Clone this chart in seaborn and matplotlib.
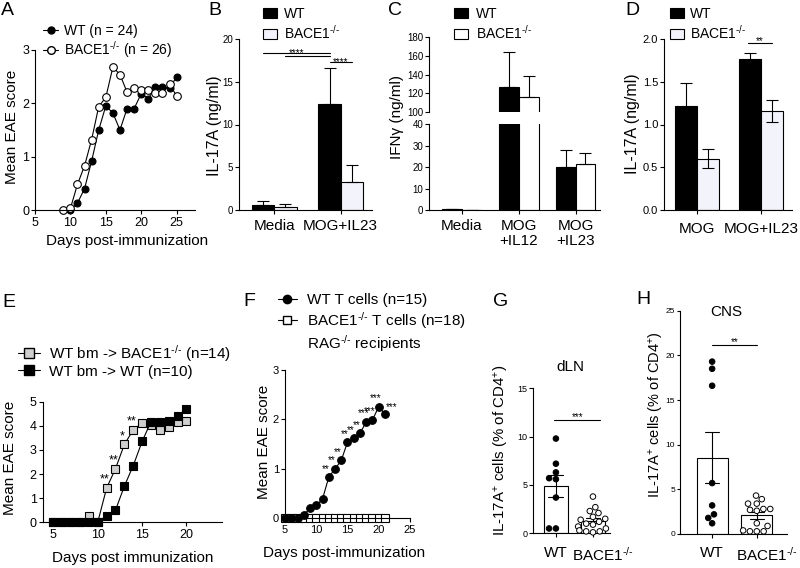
import numpy as np
import pandas as pd
import matplotlib
matplotlib.use("Agg")
import matplotlib.pyplot as plt
import seaborn as sns
from matplotlib.lines import Line2D
from matplotlib.patches import Patch
from matplotlib.transforms import ScaledTranslation

# ---------------- data ----------------
# Panel A
a_days_wt = [10, 11, 12, 13, 14, 15, 16, 17, 18, 19, 20, 21, 22, 23, 24, 25]
a_score_wt = [0.00, 0.13, 0.40, 0.92, 1.50, 1.95, 1.82, 1.50, 1.90, 1.90, 2.18, 2.09, 2.30, 2.30, 2.28, 2.50]
a_days_ko = [9, 10, 11, 12, 13, 14, 15, 16, 17, 18, 19, 20, 21, 22, 23, 24, 25]
a_score_ko = [0.00, 0.03, 0.48, 0.83, 1.32, 1.94, 2.11, 2.68, 2.54, 2.21, 2.28, 2.25, 2.25, 2.20, 2.20, 2.36, 2.14]

# Panel B
b_conditions = ["Media", "MOG+IL23"]
b_wt = [0.60, 12.4]
b_wt_sem = [0.45, 4.2]
b_ko = [0.35, 3.3]
b_ko_sem = [0.30, 2.0]

# Panel C
c_conditions = ["Media", "MOG\n+IL12", "MOG\n+IL23"]
c_wt = [0.3, 127.0, 20.0]
c_wt_sem = [0.0, 37.0, 8.0]
c_ko = [0.2, 116.0, 21.5]
c_ko_sem = [0.0, 23.0, 5.2]

# Panel D
d_conditions = ["MOG", "MOG+IL23"]
d_wt = [1.22, 1.77]
d_wt_sem = [0.26, 0.07]
d_ko = [0.60, 1.16]
d_ko_sem = [0.11, 0.13]

# Panel E
e_days = [5, 6, 7, 8, 9, 10, 11, 12, 13, 14, 15, 16, 17, 18, 19, 20]
e_ko_recip = [0, 0, 0, 0, 0.25, 0, 1.42, 2.22, 3.23, 3.83, 4.12, 4.02, 3.83, 3.95, 4.15, 4.22]
e_wt_recip = [0, 0, 0, 0, 0, 0, 0.28, 0.50, 1.50, 2.35, 3.35, 4.17, 4.17, 4.20, 4.42, 4.70]
e_sig_days = [11, 12, 13, 14]
e_sig_labels = ["**", "**", "*", "**"]

# Panel F
f_days = [5, 6, 7, 8, 9, 10, 11, 12, 13, 14, 15, 16, 17, 18, 19, 20, 21]
f_wt = [0, 0, 0, 0.07, 0.20, 0.26, 0.39, 0.83, 1.00, 1.17, 1.54, 1.62, 1.72, 1.95, 1.99, 2.26, 2.10]
f_ko = [0, 0, 0, 0, 0, 0, 0, 0, 0, 0, 0, 0, 0, 0, 0, 0, 0]
f_sig_days = [12, 13, 14, 15, 16, 17, 18, 19, 20]
f_sig_labels = ["**", "**", "**", "**", "**", "**", "***", "***", "***"]

# Panel G (dLN)
g_wt = [9.8, 7.2, 6.3, 5.7, 5.6, 3.7, 0.5, 0.5]
g_ko = [3.8, 2.7, 2.3, 2.1, 1.7, 1.5, 1.4, 1.2, 1.0, 0.9, 0.7, 0.5, 0.3, 0.2, 0.2, 0.1]

# Panel H (CNS)
h_wt = [19.3, 18.5, 16.6, 5.7, 3.2, 2.2, 1.8, 1.2]
h_ko = [4.3, 3.9, 3.4, 3.4, 2.8, 2.8, 2.7, 2.6, 1.2, 0.9, 0.4, 0.3, 0.3, 0.3]

KO = r"BACE1$^{\text{-/-}}$"
RAG = r"RAG$^{\text{-/-}}$"
KO_FILL = "#f3f3fc"

# ---------------- style ----------------
sns.set_style("ticks")
plt.rcParams.update({
    "font.family": ["Liberation Sans", "DejaVu Sans"],
    "mathtext.fontset": "custom",
    "mathtext.rm": "Liberation Sans",
    "mathtext.it": "Liberation Sans:italic",
    "mathtext.bf": "Liberation Sans:bold",
    "axes.edgecolor": "black",
    "axes.linewidth": 0.8,
    "xtick.color": "black",
    "ytick.color": "black",
    "text.color": "black",
    "axes.labelcolor": "black",
    "xtick.major.width": 0.8,
    "ytick.major.width": 0.8,
    "xtick.major.size": 2.8,
    "ytick.major.size": 2.8,
})

W, H = 800, 568
fig = plt.figure(figsize=(8, 5.68), dpi=100)


def add_ax(l, t, r, b):
    ax = fig.add_axes([l / W, 1 - b / H, (r - l) / W, (b - t) / H])
    ax.set_facecolor("none")
    return ax


def ftext(x, y, s, **kw):
    return fig.text(x / W, 1 - y / H, s, **kw)


def style(ax, yfs, xfs=None):
    sns.despine(ax=ax)
    ax.set_xlabel("")
    ax.set_ylabel("")
    ax.tick_params(axis="y", labelsize=yfs, pad=1.5)
    ax.tick_params(axis="x", labelsize=xfs if xfs else yfs, pad=2)


def legend(ax, handles, labels, x, y, fs, **kw):
    ax.legend(handles, labels, loc="upper left", bbox_to_anchor=(x / W, 1 - y / H),
              bbox_transform=fig.transFigure, frameon=False, fontsize=fs,
              borderpad=0, borderaxespad=0, **kw)


def sig(ax, x0, x1, y, s, off=0.0, fs=7):
    ax.plot([x0, x1], [y, y], color="black", lw=0.8, clip_on=False)
    ax.annotate(s, xy=((x0 + x1) / 2, y), xytext=(0, off), textcoords="offset points",
                ha="center", va="baseline", fontsize=fs, annotation_clip=False)


def bar_panel(ax, conds, wt, wt_sem, ko, ko_sem, ko_fill, width, both=False):
    df = pd.DataFrame({"condition": conds * 2,
                       "genotype": ["WT"] * len(conds) + ["KO"] * len(conds),
                       "value": wt + ko})
    sns.barplot(data=df, x="condition", y="value", hue="genotype", hue_order=["WT", "KO"],
                palette={"WT": "black", "KO": ko_fill}, saturation=1, width=width,
                edgecolor="black", linewidth=0.8, errorbar=None, legend=False, ax=ax)
    xpos = np.arange(len(conds))
    off = width / 4
    for xs, m, e in [(xpos - off, wt, wt_sem), (xpos + off, ko, ko_sem)]:
        e = np.asarray(e)
        lower = e if both else np.zeros_like(e)
        ax.errorbar(xs, m, yerr=[lower, e], fmt="none", ecolor="black",
                    elinewidth=0.8, capsize=4, capthick=0.8, zorder=3)


def bar_handles(fill):
    return [Patch(facecolor="black", edgecolor="black", lw=0.8),
            Patch(facecolor=fill, edgecolor="black", lw=0.8)]


# ---------------- Panel A ----------------
axA = add_ax(35, 50, 195, 210)
sns.lineplot(x=a_days_wt, y=a_score_wt, ax=axA, color="black", lw=0.8, marker="o",
             markersize=5, markerfacecolor="black", markeredgecolor="black",
             markeredgewidth=0.8, clip_on=False, errorbar=None)
sns.lineplot(x=a_days_ko, y=a_score_ko, ax=axA, color="black", lw=0.8, marker="o",
             markersize=5.5, markerfacecolor="white", markeredgecolor="black",
             markeredgewidth=0.8, clip_on=False, errorbar=None)
axA.set(xlim=(5, 27.6), ylim=(0, 3), xticks=[5, 10, 15, 20, 25], yticks=[0, 1, 2, 3])
style(axA, 9)
legend(axA, [Line2D([], [], color="black", lw=0.8, marker="o", ms=5, mfc="black", mec="black"),
             Line2D([], [], color="black", lw=0.8, marker="o", ms=5.5, mfc="white", mec="black")],
       ["WT (n = 24)", KO + " (n = 26)"], 43, 24, 10,
       handlelength=1.1, handletextpad=0.38, labelspacing=0.1)
ftext(12, 127, "Mean EAE score", rotation=90, ha="center", va="center", fontsize=11)
ftext(127, 241, "Days post-immunization", ha="center", va="center", fontsize=11)
ftext(1, 2, "A", ha="left", va="top", fontsize=14)

# ---------------- Panel B ----------------
axB = add_ax(239, 39, 372, 210)
bar_panel(axB, b_conditions, b_wt, b_wt_sem, b_ko, b_ko_sem, KO_FILL, 0.67)
axB.set(xlim=(-0.53, 1.47), ylim=(0, 20), yticks=[0, 5, 10, 15, 20])
style(axB, 7, 11)
axB.tick_params(axis="x", pad=4)
sig(axB, -0.1675, 0.8325, 18.4, "****", off=-2.2)
axB.plot([0.1675, 0.8325], [18.05, 18.05], color="black", lw=0.8, clip_on=False)
sig(axB, 0.8325, 1.1675, 17.27, "****", off=-2.2)
legend(axB, bar_handles(KO_FILL), ["WT", KO], 262.7, 7, 10,
       handlelength=1.06, handleheight=0.72, handletextpad=0.48, labelspacing=0.2)
ftext(214, 126, "IL-17A (ng/ml)", rotation=90, ha="center", va="center", fontsize=11.5)
ftext(208, 2, "B", ha="left", va="top", fontsize=14)

# ---------------- Panel C (broken axis) ----------------
axCt = add_ax(429.3, 37.3, 600, 112)
axCb = add_ax(429.3, 124, 600, 210)
for ax in (axCt, axCb):
    bar_panel(ax, c_conditions, c_wt, c_wt_sem, c_ko, c_ko_sem, "white", 0.70)
    ax.set_xlim(-0.57, 2.43)
axCt.set(ylim=(100, 180), yticks=[100, 120, 140, 160, 180])
axCb.set(ylim=(0, 40), yticks=[0, 10, 20, 30, 40])
style(axCt, 7)
style(axCb, 7, 11)
axCt.spines["bottom"].set_visible(False)
axCt.tick_params(axis="x", bottom=False, labelbottom=False)
axCb.tick_params(axis="x", pad=4)
for lab in axCb.get_xticklabels():
    lab.set_linespacing(1.05)
legend(axCt, bar_handles("white"), ["WT", KO], 454, 7, 10,
       handlelength=1.0, handleheight=0.72, handletextpad=0.55, labelspacing=0.2)
ftext(397, 117, "IFNγ (ng/ml)", rotation=90, ha="center", va="center", fontsize=11)
ftext(388, 2, "C", ha="left", va="top", fontsize=14)

# ---------------- Panel D ----------------
axD = add_ax(664, 39, 791.7, 210)
bar_panel(axD, d_conditions, d_wt, d_wt_sem, d_ko, d_ko_sem, KO_FILL, 0.68, both=True)
axD.set(xlim=(-0.51, 1.48), ylim=(0, 2.0), yticks=[0.0, 0.5, 1.0, 1.5, 2.0])
axD.yaxis.set_major_formatter(matplotlib.ticker.FormatStrFormatter("%.1f"))
style(axD, 8, 11)
axD.tick_params(axis="x", pad=6)
sig(axD, 0.80, 1.17, 1.95, "**", off=-0.6)
legend(axD, bar_handles(KO_FILL), ["WT", KO], 670, 7, 10,
       handlelength=1.0, handleheight=0.72, handletextpad=0.45, labelspacing=0.2)
ftext(633, 124, "IL-17A (ng/ml)", rotation=90, ha="center", va="center", fontsize=11.5)
ftext(625, 2, "D", ha="left", va="top", fontsize=14)

# ---------------- Panel E ----------------
axE = add_ax(42.7, 401.7, 222, 522.3)
sns.lineplot(x=e_days, y=e_ko_recip, ax=axE, color="black", lw=0.8, marker="s",
             markersize=5.5, markerfacecolor="#cfcfcf", markeredgecolor="black",
             markeredgewidth=0.8, clip_on=False, errorbar=None)
sns.lineplot(x=e_days, y=e_wt_recip, ax=axE, color="black", lw=0.8, marker="s",
             markersize=5.5, markerfacecolor="black", markeredgecolor="black",
             markeredgewidth=0.8, clip_on=False, errorbar=None)
axE.set(xlim=(3.8, 24), ylim=(0, 5), xticks=[5, 10, 15, 20], yticks=[0, 1, 2, 3, 4, 5])
style(axE, 9)
for d, s in zip(e_sig_days, e_sig_labels):
    yv = e_ko_recip[e_days.index(d)]
    axE.annotate(s, xy=(d, yv), xytext=(-1.5, 3.7), textcoords="offset points",
                 ha="center", va="baseline", fontsize=9)
legend(axE, [Line2D([], [], color="black", lw=0.8, marker="s", ms=7, mfc="#cfcfcf", mec="black"),
             Line2D([], [], color="black", lw=0.8, marker="s", ms=7, mfc="black", mec="black")],
       ["WT bm -> " + KO + " (n=14)", "WT bm -> WT (n=10)"], 18.3, 343, 11,
       handlelength=1.42, handletextpad=0.6, labelspacing=0.05)
ftext(10, 458, "Mean EAE score", rotation=90, ha="center", va="center", fontsize=11)
ftext(133, 558, "Days post immunization", ha="center", va="center", fontsize=11)
ftext(2, 294, "E", ha="left", va="top", fontsize=14)

# ---------------- Panel F ----------------
axF = add_ax(285, 370, 410, 518.3)
sns.lineplot(x=f_days, y=f_ko, ax=axF, color="black", lw=0.8, marker="s",
             markersize=5.5, markerfacecolor="white", markeredgecolor="black",
             markeredgewidth=0.8, clip_on=False, errorbar=None)
sns.lineplot(x=f_days, y=f_wt, ax=axF, color="black", lw=0.8, marker="o",
             markersize=5.5, markerfacecolor="black", markeredgecolor="black",
             markeredgewidth=0.8, clip_on=False, errorbar=None)
axF.set(xlim=(5, 25), ylim=(0, 3), xticks=[5, 10, 15, 20, 25], yticks=[0, 1, 2, 3])
style(axF, 8)
for d, s in zip(f_sig_days, f_sig_labels):
    yv = f_wt[f_days.index(d)]
    axF.annotate(s, xy=(d, yv), xytext=(-2.2, 4.0), textcoords="offset points",
                 ha="center", va="baseline", fontsize=7)
axF.annotate("***", xy=(21, f_wt[-1]), xytext=(5, 3.5), textcoords="offset points",
             ha="center", va="baseline", fontsize=7)
legend(axF, [Line2D([], [], color="black", lw=0.8, marker="o", ms=6, mfc="black", mec="black"),
             Line2D([], [], color="black", lw=0.8, marker="s", ms=6, mfc="white", mec="black"),
             Line2D([], [], linestyle="none")],
       ["WT T cells (n=15)", KO + " T cells (n=18)", RAG + " recipients"], 278, 293, 11,
       handlelength=1.24, handletextpad=0.63, labelspacing=0.18)
ftext(264, 442, "Mean EAE score", rotation=90, ha="center", va="center", fontsize=11)
ftext(344, 553, "Days post-immunization", ha="center", va="center", fontsize=11)
ftext(243, 293, "F", ha="left", va="top", fontsize=14)


# ---------------- Panels G, H ----------------
def scatter_bar(ax, wt, ko, width, cap):
    df = pd.DataFrame({"genotype": ["WT"] * len(wt) + ["KO"] * len(ko), "value": wt + ko})
    sns.barplot(data=df, x="genotype", y="value", order=["WT", "KO"], errorbar="se",
                capsize=cap, color="white", saturation=1, edgecolor="black", linewidth=0.8,
                err_kws={"color": "black", "linewidth": 0.8}, width=width, ax=ax)
    sns.swarmplot(data=df, x="genotype", y="value", order=["WT", "KO"], hue="genotype",
                  palette={"WT": "black", "KO": "white"}, edgecolor="black", linewidth=0.7,
                  size=4, legend=False, ax=ax, clip_on=False)
    ax.set_xticks([0, 1])
    ax.set_xticklabels(["WT", KO])


def shift_ko_label(ax, dx):
    lab = ax.get_xticklabels()[1]
    lab.set_transform(lab.get_transform() + ScaledTranslation(dx / 100, 0, fig.dpi_scale_trans))


axG = add_ax(533.3, 388.3, 610, 533.3)
scatter_bar(axG, g_wt, g_ko, 0.66, 0.4)
axG.set(xlim=(-0.61, 1.46), ylim=(0, 15), yticks=[0, 5, 10, 15])
style(axG, 6.5, 11)
axG.tick_params(axis="x", pad=6)
shift_ko_label(axG, 10)
sig(axG, -0.05, 1.2, 11.7, "***", off=0.2)
ftext(570, 367, "dLN", ha="center", va="center", fontsize=11)
ftext(501.5, 450, "IL-17A$^{+}$ cells (% of CD4$^{+}$)", rotation=90, ha="center", va="center", fontsize=10.8)
ftext(493, 293, "G", ha="left", va="top", fontsize=14)

axH = add_ax(680, 310.7, 786.7, 534)
scatter_bar(axH, h_wt, h_ko, 0.69, 0.32)
axH.set(xlim=(-0.72, 1.67), ylim=(0, 25), yticks=[0, 5, 10, 15, 20, 25])
style(axH, 6, 11)
axH.tick_params(axis="y", pad=1, length=2.5)
axH.tick_params(axis="x", pad=6)
shift_ko_label(axH, 10)
sig(axH, 0.0, 1.0, 21.2, "**", off=0.0)
ftext(726, 312, "CNS", ha="center", va="center", fontsize=11)
ftext(656, 415, "IL-17A$^{+}$ cells (% of CD4$^{+}$)", rotation=90, ha="center", va="center", fontsize=10.5)
ftext(636, 291, "H", ha="left", va="top", fontsize=14)

fig.savefig("out.png", dpi=100)
